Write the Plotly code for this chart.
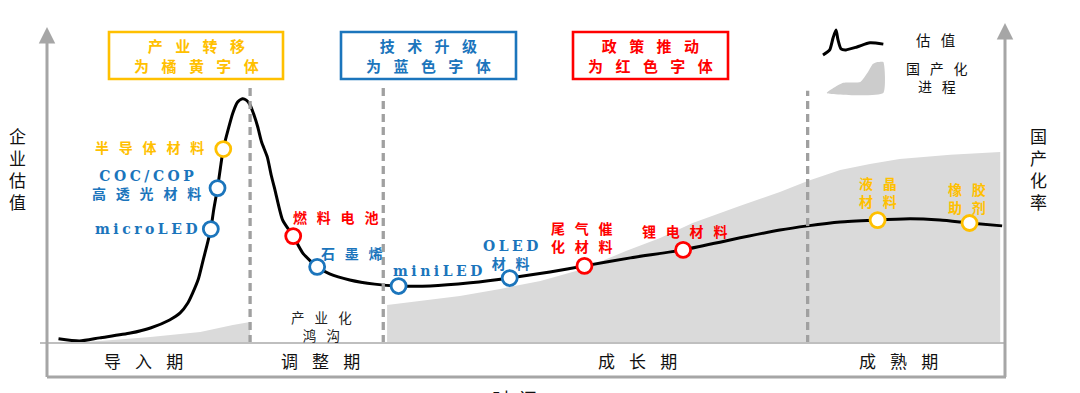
import plotly.graph_objects as go

# ------------------------------------------------------------------ data
# valuation curve (time 0-100, valuation 0-100)
time_pts = [1.2, 3.4, 5.5, 8.7, 10.8, 12.8, 13.9, 14.7, 15.2, 15.8, 16.3, 16.7, 17.1, 17.4,
            17.8, 18.1, 18.4, 18.9, 19.4, 19.9, 20.4, 20.8, 21.2, 21.6, 22.0, 22.4, 23.0,
            23.4, 23.8, 24.6, 25.7, 26.7, 28.2, 29.5, 31.6, 34.2, 36.7, 40.0, 44.2, 48.3,
            52.5, 56.1, 60.9, 66.4, 71.3, 76.5, 79.4, 82.8, 86.7, 90.1, 93.2, 96.3, 99.7]
valuation = [1.3, 0.6, 1.6, 3.1, 4.7, 7.2, 9.4, 12.5, 15.6, 20.0, 25.9, 30.6, 35.6, 41.6,
             48.4, 54.7, 60.6, 66.6, 71.9, 75.3, 76.3, 75.9, 74.4, 71.3, 67.5, 62.8, 58.1,
             52.5, 47.8, 38.4, 33.4, 28.1, 23.8, 21.6, 19.7, 18.4, 17.8, 17.8, 18.8, 20.3,
             22.2, 24.1, 26.6, 29.1, 32.2, 35.3, 36.6, 37.8, 38.4, 38.8, 38.4, 37.5, 36.6]

# domestic-production progress (two segments, gap = 产业化鸿沟)
dom_t1 = [3.4, 5.5, 10.8, 16.0, 19.4, 21.2]
dom_r1 = [0.3, 0.6, 1.9, 3.4, 5.6, 6.6]
dom_t2 = [35.5, 38.9, 43.1, 47.3, 51.5, 55.6, 60.5, 64.0, 67.4, 72.3, 76.5, 79.4, 82.8,
          85.9, 89.0, 94.3, 99.5]
dom_r2 = [11.9, 13.1, 14.7, 16.9, 19.4, 22.8, 28.8, 32.8, 37.5, 42.8, 47.2, 50.6, 54.1,
          55.9, 57.5, 58.8, 59.7]

# materials on the curve
mat_names = ['半导体材料', 'COC/COP高透光材料', 'microLED', '燃料电池', '石墨烯', 'miniLED',
             'OLED材料', '尾气催化材料', '锂电材料', '液晶材料', '橡胶助剂']
mat_t = [18.4, 17.8, 17.1, 25.7, 28.2, 36.7, 48.3, 56.1, 66.4, 86.7, 96.3]
mat_v = [60.6, 48.4, 35.6, 33.4, 23.8, 17.8, 20.3, 24.1, 29.1, 38.4, 37.5]
mat_driver = ['产业转移', '技术升级', '技术升级', '政策推动', '技术升级', '技术升级',
              '技术升级', '政策推动', '政策推动', '产业转移', '产业转移']
mat_label_lines = [['半导体材料'], ['COC/COP', '高透光材料'], ['microLED'], ['燃料电池'],
                   ['石墨烯'], ['miniLED'], ['OLED', '材料'], ['尾气催', '化材料'],
                   ['锂电材料'], ['液晶', '材料'], ['橡胶', '助剂']]

drivers = ['产业转移', '技术升级', '政策推动']
driver_notes = ['为橘黄字体', '为蓝色字体', '为红色字体']
phase_names = ['导入期', '调整期', '成长期', '成熟期']
phase_bounds = [21.2, 35.1, 79.4]
phase_bound_tops = [80.9, 80.9, 78.8]

legend_curve_t = [81.0, 81.7, 82.05, 82.36, 82.57, 82.88, 83.4, 84.55, 85.9, 87.3]
legend_curve_v = [90.0, 91.6, 95.3, 97.8, 94.7, 91.9, 91.6, 92.5, 93.8, 93.4]
legend_area_t = [81.4, 83.1, 84.9, 85.7, 86.2, 86.7, 87.3, 87.3, 81.4]
legend_area_v = [78.1, 81.3, 81.6, 84.7, 87.2, 87.8, 87.8, 78.1, 78.1]

# ------------------------------------------------------------------ style / layout
W, H = 1080, 393
X0, XS = 47.0, 9.58      # pixel of time=0, pixels per unit
Y0, YS = 343.0, 3.2      # pixel of valuation=0, pixels per unit


def fx(px):
    return (px - X0) / XS


def fy(py):
    return (Y0 - py) / YS


ORANGE, BLUE, RED = '#FFC000', '#1B75BC', '#FF0000'
COLOR = {'产业转移': ORANGE, '技术升级': BLUE, '政策推动': RED}
SERIF_CJK = 'DejaVu Serif, Noto Sans CJK SC'
AXIS = '#A6A6A6'

fig = go.Figure()

# fills
fig.add_trace(go.Scatter(x=dom_t1 + [dom_t1[-1], dom_t1[0]], y=dom_r1 + [0, 0],
                         fill='toself', fillcolor='#DADADA', mode='lines',
                         line=dict(width=0), hoverinfo='skip'))
fig.add_trace(go.Scatter(x=dom_t2 + [dom_t2[-1], dom_t2[0]], y=dom_r2 + [0, 0],
                         fill='toself', fillcolor='#DADADA', mode='lines',
                         line=dict(width=0), hoverinfo='skip'))
# legend icons
fig.add_trace(go.Scatter(x=legend_area_t, y=legend_area_v, fill='toself', fillcolor='#CCCCCC',
                         mode='lines', line=dict(width=0, shape='spline', smoothing=0.5)))
fig.add_trace(go.Scatter(x=legend_curve_t, y=legend_curve_v, mode='lines',
                         line=dict(color='black', width=3, shape='spline', smoothing=0.6)))
# valuation curve
fig.add_trace(go.Scatter(x=time_pts, y=valuation, mode='lines',
                         line=dict(color='black', width=3, shape='spline', smoothing=0.6)))
# markers
fig.add_trace(go.Scatter(x=mat_t, y=mat_v, mode='markers', text=mat_names,
                         marker=dict(size=15, color='white',
                                     line=dict(width=2.8, color=[COLOR[d] for d in mat_driver]))))

shapes = []
ann = []

# phase boundaries
for b, top in zip(phase_bounds, phase_bound_tops):
    shapes.append(dict(type='line', xref='x', yref='y', x0=b, x1=b, y0=0, y1=top,
                       line=dict(color='#A0A0A0', width=3.3, dash='8px,5px'), layer='above'))

# bottom band lines
shapes.append(dict(type='line', xref='x', yref='y', x0=fx(40), x1=fx(1005), y0=0, y1=0,
                   line=dict(color='#BFBFBF', width=2)))
shapes.append(dict(type='line', xref='x', yref='y', x0=fx(47), x1=fx(1006), y0=fy(377),
                   y1=fy(377), line=dict(color=AXIS, width=3)))

# axes arrows
for xpx, tip in [(47, 27), (1005, 23)]:
    ann.append(dict(x=fx(xpx), y=fy(tip), ax=fx(xpx), ay=fy(378.5), xref='x', yref='y',
                    axref='x', ayref='y', text='', showarrow=True, arrowhead=2,
                    arrowsize=1.1, arrowwidth=3, arrowcolor=AXIS, standoff=0))


def spaced(s, cjk_sep, latin_sep='\u2005'):
    return (latin_sep if s.isascii() else cjk_sep).join(s)


def txt(lines, px, py, size, color='black', family=SERIF_CJK, sep='', bold=False,
        xanchor='center', yanchor='middle'):
    if isinstance(lines, str):
        lines = [lines]
    parts = [spaced(l, sep) if sep else l for l in lines]
    s2 = '<br>'.join(parts)
    if bold:
        s2 = '<b>' + s2 + '</b>'
    ann.append(dict(x=fx(px), y=fy(py), xref='x', yref='y', text=s2, showarrow=False,
                    xanchor=xanchor, yanchor=yanchor, align='center',
                    font=dict(family=family, size=size, color=color)))


# driver boxes
box_px = [(109, 283), (341, 516), (573, 728)]
for d, note, (l, r) in zip(drivers, driver_notes, box_px):
    c = COLOR[d]
    shapes.append(dict(type='rect', xref='x', yref='y', x0=fx(l), x1=fx(r), y0=fy(79),
                       y1=fy(32), line=dict(color=c, width=2.6)))
    txt([d, note], (l + r) / 2, 56.5, 15, c, sep='\u2002\u2004', bold=True)

# material labels (px centre, py centre of the whole label block, anchor)
label_pos = [(206, 148, 'right'), (146, 185, 'center'), (146, 229, 'center'),
             (335, 218, 'center'), (352, 254, 'center'), (437, 271, 'center'),
             (510, 255, 'center'), (582, 238, 'center'), (684, 232, 'center'),
             (878, 193, 'center'), (967, 199, 'center')]
for lines, (px, py, anc), d in zip(mat_label_lines, label_pos, mat_driver):
    txt(lines, px, py, 14, COLOR[d], sep='\u2002\u2009', bold=True, xanchor=anc)

# 产业化鸿沟
txt(['产业化', '鸿沟'], 321, 327, 13.5, '#222', sep='\u2002\u2005')

# phase labels
for name, px in zip(phase_names, [143, 320, 637, 898]):
    txt(name, px, 362, 17, '#111', sep='\u2002\u2004')

# axis titles (stacked vertically)
txt(list('企业估值'), 17, 169.5, 17, '#111')
txt(list('国产化率'), 1038, 169.5, 17, '#111')
txt('时\u2002间', 514, 387, 18, '#111', yanchor='top')

# legend texts
txt('估值', 935, 41, 14.5, '#111', sep='\u2002\u2009')
txt(['国产化', '进程'], 937, 77.5, 14, '#111', sep='\u2002\u2009')

fig.update_layout(
    width=W, height=H, margin=dict(l=0, r=0, t=0, b=0, pad=0),
    paper_bgcolor='white', plot_bgcolor='white', showlegend=False,
    xaxis=dict(range=[fx(0), fx(W)], visible=False, fixedrange=True),
    yaxis=dict(range=[fy(H), fy(0)], visible=False, fixedrange=True),
    shapes=shapes, annotations=ann,
)

fig.write_html('out.html', config={'displayModeBar': False},
               post_script="document.body.style.margin='0';document.body.style.padding='0';")
